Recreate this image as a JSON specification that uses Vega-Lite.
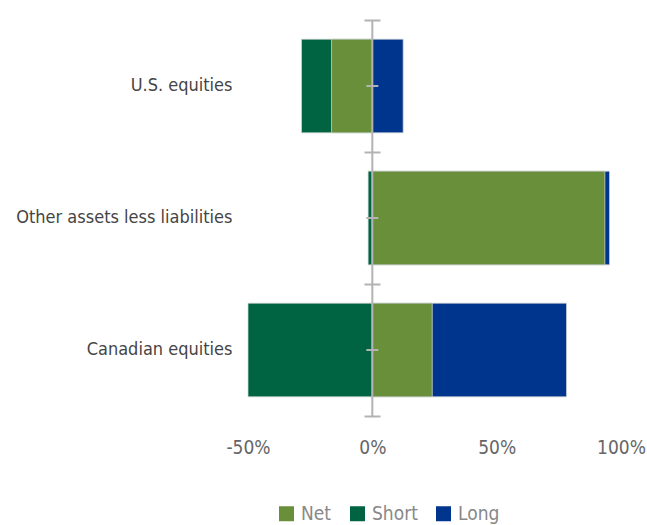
{
  "$schema": "https://vega.github.io/schema/vega-lite/v6.json",
  "width": 373,
  "height": 396,
  "autosize": {"type": "none"},
  "padding": {"left": 248, "top": 20, "right": 26, "bottom": 109},
  "config": {"view": {"stroke": null}, "font": "DejaVu Sans Condensed, Roboto, sans-serif"},
  "data": {
    "values": [
      {"category": "U.S. equities", "type": "Short", "value": -28.5},
      {"category": "U.S. equities", "type": "Long", "value": 12.4},
      {"category": "Other assets less liabilities", "type": "Short", "value": -1.7},
      {"category": "Other assets less liabilities", "type": "Long", "value": 95.4},
      {"category": "Canadian equities", "type": "Short", "value": -50},
      {"category": "Canadian equities", "type": "Long", "value": 78.1},
      {"category": "U.S. equities", "type": "Net", "value": -16.4},
      {"category": "Other assets less liabilities", "type": "Net", "value": 93.5},
      {"category": "Canadian equities", "type": "Net", "value": 24.1}
    ]
  },
  "layer": [
    {
      "mark": {"type": "bar", "stroke": "#d3d8d3", "strokeWidth": 0.75},
      "encoding": {
        "y": {
          "field": "category", "type": "nominal",
          "sort": ["U.S. equities", "Other assets less liabilities", "Canadian equities"],
          "scale": {"paddingInner": 0.29, "paddingOuter": 0.145},
          "axis": {"title": null, "orient": "left", "domain": false, "ticks": false, "labelPadding": 16, "labelFontSize": 18, "labelLimit": 400, "labelColor": "#454545"}
        },
        "x": {
          "field": "value", "type": "quantitative",
          "scale": {"domain": [-50, 100], "nice": false},
          "axis": {"title": null, "values": [-50, 0, 50, 100], "labelExpr": "datum.value + '%'", "labelFlush": false, "domain": false, "ticks": false, "grid": false, "labelPadding": 22, "labelFontSize": 19, "labelColor": "#666666"}
        },
        "x2": {"datum": 0},
        "color": {
          "field": "type", "type": "nominal",
          "scale": {"domain": ["Net", "Short", "Long"], "range": ["#6a8f3a", "#006341", "#00358e"]},
          "legend": {"title": null, "orient": "none", "direction": "horizontal", "legendX": 29, "legendY": 484, "symbolType": "square", "symbolSize": 225, "symbolStrokeWidth": 0, "labelFontSize": 19, "labelColor": "#888888", "labelOffset": 5, "columnPadding": 16}
        }
      }
    },
    {
      "data": {"values": [{"z": 0}]},
      "mark": {"type": "rule", "color": "#b3b3b3", "strokeWidth": 2},
      "encoding": {"x": {"field": "z", "type": "quantitative"}}
    },
    {
      "data": {"values": [{"category": "U.S. equities", "z": 0}, {"category": "Other assets less liabilities", "z": 0}, {"category": "Canadian equities", "z": 0}]},
      "mark": {"type": "tick", "orient": "horizontal", "size": 12, "thickness": 2, "color": "#b3b3b3", "opacity": 1},
      "encoding": {
        "x": {"field": "z", "type": "quantitative"},
        "y": {
          "field": "category", "type": "nominal",
          "sort": ["U.S. equities", "Other assets less liabilities", "Canadian equities"],
          "scale": {"paddingInner": 0, "paddingOuter": 0},
          "axis": {"title": null, "orient": "left", "offset": -132, "domain": false, "labels": false, "ticks": true, "tickBand": "extent", "tickSize": 16, "tickWidth": 2, "tickColor": "#b3b3b3", "zindex": 1}
        }
      }
    }
  ],
  "resolve": {"scale": {"y": "independent"}, "axis": {"y": "independent"}}
}
